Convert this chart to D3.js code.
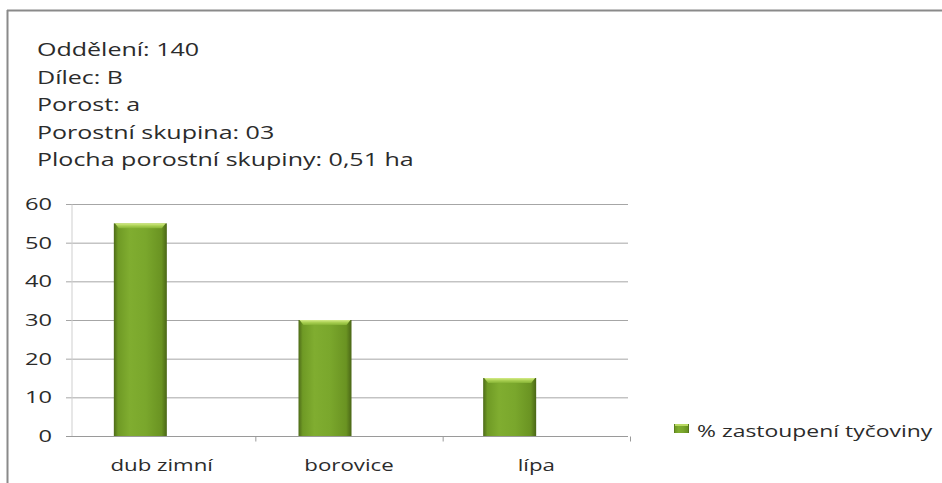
<!DOCTYPE html>
<html>
<head>
<meta charset="utf-8">
<script src="https://cdn.jsdelivr.net/npm/d3@7"></script>
<style>
  html, body { margin: 0; padding: 0; background: #fff; }
  svg { display: block; }
  text { font-family: "Open Sans", "DejaVu Sans", sans-serif; fill: #2b2b2b; }
</style>
</head>
<body>
<svg id="chart" width="942" height="483"></svg>
<script>
// Stand info shown above the chart
const infoLines = [
  "Oddělení: 140",
  "Dílec: B",
  "Porost: a",
  "Porostní skupina: 03",
  "Plocha porostní skupiny: 0,51 ha"
];

// Species and their share of the pole-stage stand (%)
const categories = ["dub zimní", "borovice", "lípa"];
const shares = [55, 30, 15];
const yTicks = [0, 10, 20, 30, 40, 50, 60];
const seriesName = "% zastoupení tyčoviny";

const svg = d3.select("#chart");
const W = 942, H = 483;
const plot = { left: 68, right: 630, top: 204, bottom: 436 };
// all text in this sheet is rendered with a wide horizontal stretch
const SX = 1.39;

// helper: place a stretched text at (x, y)
function stretched(sel, x, y) {
  return sel.attr("transform", `translate(${x},${y}) scale(${SX},1)`);
}

// Frame around the chart area
svg.append("line").attr("x1", 7).attr("x2", W).attr("y1", 10.5).attr("y2", 10.5)
  .attr("stroke", "#8a8a8a").attr("stroke-width", 2);
svg.append("line").attr("x1", 7.5).attr("x2", 7.5).attr("y1", 10).attr("y2", H)
  .attr("stroke", "#8a8a8a").attr("stroke-width", 2);

// Header text block
svg.append("g").selectAll("text").data(infoLines).join("text")
  .each(function (d, i) { stretched(d3.select(this), 37, 56 + i * 27.6); })
  .attr("font-size", 18)
  .text(d => d);

const x = d3.scaleBand().domain(categories).range([plot.left, plot.right]);
// bars sit a little left of the category centres
const xBar = d3.scaleBand().domain(categories).range([48, 602]);
const y = d3.scaleLinear().domain([0, 60]).range([plot.bottom, plot.top]);

// Horizontal gridlines
svg.append("g").selectAll("line").data(yTicks.filter(t => t > 0)).join("line")
  .attr("x1", plot.left - 2).attr("x2", plot.right - 2)
  .attr("y1", d => y(d) + 0.5).attr("y2", d => y(d) + 0.5)
  .attr("stroke", "#a6a6a6").attr("stroke-width", 1);

// Y axis
const gy = svg.append("g").attr("transform", `translate(${plot.left + 3.5},0)`)
  .call(d3.axisLeft(y).tickValues(yTicks).tickSize(0).tickFormat(() => ""));
gy.select(".domain").attr("stroke", "#cfcfcf");
svg.append("g").selectAll("text").data(yTicks).join("text")
  .each(function (d) { stretched(d3.select(this), 52, y(d)); })
  .attr("dy", "0.36em")
  .attr("text-anchor", "end")
  .attr("font-size", 17)
  .attr("fill", "#333")
  .text(d => d);

// X axis with category boundary ticks
const gx = svg.append("g").attr("transform", `translate(0,${plot.bottom + 0.5})`);
gx.append("line").attr("x1", plot.left - 2).attr("x2", plot.right - 2)
  .attr("stroke", "#9a9a9a");
const boundaries = categories.map(c => x(c)).concat([x(categories[categories.length - 1]) + x.bandwidth()]);
gx.selectAll(".bt").data(boundaries.slice(1)).join("line").attr("class", "bt")
  .attr("x1", d => d + 0.5).attr("x2", d => d + 0.5).attr("y1", 0).attr("y2", 5)
  .attr("stroke", "#9a9a9a");
svg.append("g").selectAll("text").data(categories).join("text")
  .each(function (d) { stretched(d3.select(this), x(d) + x.bandwidth() / 2, 471); })
  .attr("text-anchor", "middle")
  .attr("font-size", 16)
  .attr("fill", "#333")
  .text(d => d);

// Bar gradients: dark edges, lighter body, pale bevel on top
const defs = svg.append("defs");
const body = defs.append("linearGradient").attr("id", "barBody").attr("x1", 0).attr("x2", 1).attr("y1", 0).attr("y2", 0);
[[0, "#4d6b18"], [0.08, "#6f9a25"], [0.3, "#80ad30"], [0.6, "#7aa72c"], [0.9, "#6a9322"], [1, "#4a6616"]]
  .forEach(([o, c]) => body.append("stop").attr("offset", o).attr("stop-color", c));
const cap = defs.append("linearGradient").attr("id", "barCap").attr("x1", 0).attr("x2", 0).attr("y1", 0).attr("y2", 1);
[[0, "#d6ec8a"], [0.5, "#a9cf52"], [1, "#86b335"]]
  .forEach(([o, c]) => cap.append("stop").attr("offset", o).attr("stop-color", c));

const barW = 53;
const bx = c => xBar(c) + xBar.bandwidth() / 2 - barW / 2;
const bars = svg.append("g").selectAll("g").data(categories.map((c, i) => ({ c, v: shares[i] }))).join("g");
bars.append("rect")
  .attr("x", d => bx(d.c))
  .attr("y", d => y(d.v))
  .attr("width", barW)
  .attr("height", d => plot.bottom - y(d.v))
  .attr("fill", "url(#barBody)");
bars.append("path")
  .attr("d", d => {
    const x0 = bx(d.c), y0 = y(d.v);
    return `M${x0 + 1},${y0}H${x0 + barW - 1}L${x0 + barW - 5},${y0 + 5}H${x0 + 5}Z`;
  })
  .attr("fill", "url(#barCap)");

// Legend
const lg = svg.append("g").attr("transform", "translate(674,424)");
lg.append("rect").attr("x", 0).attr("y", 0).attr("width", 15).attr("height", 9)
  .attr("fill", "url(#barBody)");
lg.append("rect").attr("x", 1).attr("y", 0).attr("width", 13).attr("height", 2).attr("fill", "#b9d963");
svg.append("text")
  .each(function () { stretched(d3.select(this), 697, 437); })
  .attr("font-size", 16.5)
  .attr("fill", "#333")
  .text(seriesName);
</script>
</body>
</html>
